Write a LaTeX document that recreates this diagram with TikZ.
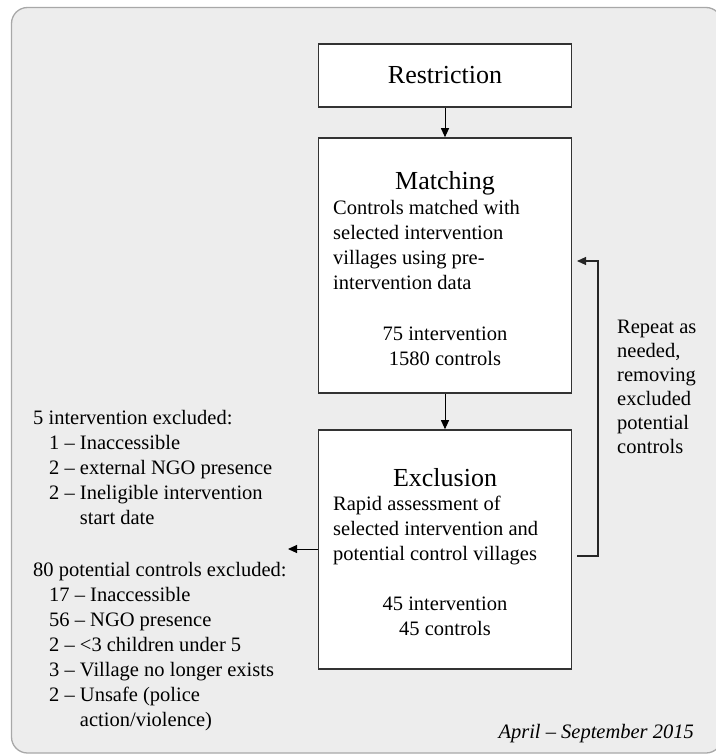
\documentclass[tikz,border=0pt]{standalone}
\usepackage{fontspec}
\setmainfont{Liberation Serif}
\usetikzlibrary{arrows.meta}
\definecolor{panelfill}{HTML}{EDEDED}
\definecolor{panelborder}{HTML}{A8A8A8}
\definecolor{boxborder}{HTML}{333333}
\tikzset{
  panel/.style={draw=panelborder, fill=panelfill, line width=1.3pt, rounded corners=16pt},
  box/.style={draw=boxborder, fill=white, line width=1.6pt, inner sep=0pt},
  body/.style={font=\fontsize{20.5}{25}\selectfont, inner sep=0pt, align=left},
  ttl/.style={font=\fontsize{26}{30}\selectfont, inner sep=0pt},
  arr/.style={-{Triangle[length=9pt,width=8pt]}, line width=1pt, draw=black},
  fback/.style={-{Triangle[length=9pt,width=8pt]}, line width=1.1pt, draw=black!85},
}
\begin{document}
\begin{tikzpicture}[x=1pt,y=-1pt]
\useasboundingbox (0,0) rectangle (715,755);
\draw[panel] (11.5,7.5) rectangle (722,753);

% boxes
\node[box, minimum width=253pt, minimum height=63pt, font=\fontsize{26}{30}\selectfont] (restr) at (445,75.5) {Restriction};
\node[box, minimum width=253pt, minimum height=255pt] (match) at (445,265.5) {};
\node[box, minimum width=253pt, minimum height=239pt] (excl) at (445,549.5) {};

% matching text (anchor base = last line)
\node[ttl, anchor=base] (tmatch) at (445,189) {Matching};
\node[body, anchor=base west] (dmatch) at (333,289) {Controls matched with\\selected intervention\\villages using pre-\\intervention data};
\node[body, align=center, anchor=base] (nmatch) at (445,365) {75 intervention\\1580 controls};

% exclusion text
\node[ttl, anchor=base] (texcl) at (445,486) {Exclusion};
\node[body, anchor=base west] (dexcl) at (333,560) {Rapid assessment of\\selected intervention and\\potential control villages};
\node[body, align=center, anchor=base] (nexcl) at (445,635) {45 intervention\\45 controls};

% left lists
\node[body, anchor=base west] (lefta) at (33,524) {5 intervention excluded:\\\hspace*{16pt}1 – Inaccessible\\\hspace*{16pt}2 – external NGO presence\\\hspace*{16pt}2 – Ineligible intervention\\\hspace*{16pt}\hphantom{2 – }start date};
\node[body, anchor=base west] (leftb) at (33,726) {80 potential controls excluded:\\\hspace*{16pt}17 – Inaccessible\\\hspace*{16pt}56 – NGO presence\\\hspace*{16pt}2 – <3 children under 5\\\hspace*{16pt}3 – Village no longer exists\\\hspace*{16pt}2 – Unsafe (police\\\hspace*{16pt}\hphantom{2 – }action/violence)};

% right note
\node[body, font=\fontsize{20.5}{24}\selectfont, anchor=base west] (note) at (617,453) {Repeat as\\needed,\\removing\\excluded\\potential\\controls};

% date
\node[body, font=\fontsize{20.5}{25}\selectfont\itshape, anchor=base east] (date) at (694,738) {April – September 2015};

% connectors
\draw[arr] (restr.south) -- (match.north);
\draw[arr] (match.south) -- (excl.north);
\coordinate (lefttip) at (288,549);
\draw[arr] (excl.west |- lefttip) -- (lefttip);
\coordinate (fbbot) at (577,556);
\coordinate (fbtop) at (577,261);
\draw[fback] (fbbot) -- ++(21,0) |- (fbtop);
\end{tikzpicture}
\end{document}
